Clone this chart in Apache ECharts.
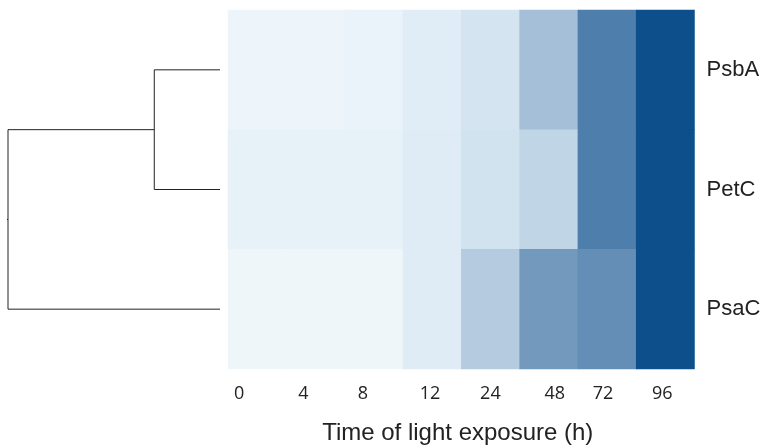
<!DOCTYPE html>
<html>
<head>
<meta charset="utf-8">
<script src="https://cdn.jsdelivr.net/npm/echarts@6/dist/echarts.min.js"></script>
<style>
html,body{margin:0;padding:0;background:#fff;}
#chart{width:763px;height:445px;}
</style>
</head>
<body>
<div id="chart"></div>
<script>
// ---- data ----
const timeLabels = ['0', '4', '8', '12', '24', '48', '72', '96'];
const genes = ['PsbA', 'PetC', 'PsaC'];
const psbA = [0.02, 0.02, 0.04, 0.10, 0.19, 0.40, 0.80, 1.00];
const petC = [0.06, 0.06, 0.06, 0.11, 0.20, 0.28, 0.80, 1.00];
const psaC = [0.01, 0.01, 0.01, 0.11, 0.33, 0.60, 0.68, 1.00];
// dendrogram linkage distances
const mergePsbAPetC = 0.31;
const mergeRoot = 1.0;

// ---- build ----
const rows = [psbA, petC, psaC];
const heat = [];
rows.forEach((r, yi) => r.forEach((v, xi) => heat.push([xi, yi, v])));

const labelShift = [-18, -12, -11, -2, 0, 6, -4, -3];
const rich = {};
labelShift.forEach((s, i) => {
  rich['l' + i] = {
    fontFamily: 'Open Sans', fontSize: 18, color: '#222',
    padding: s < 0 ? [0, -2 * s, 0, 0] : [0, 0, 0, 2 * s]
  };
});

// leaf positions (row centers in row units)
const yA = 0.5, yB = 1.5, yC = 2.5;
const yAB = (yA + yB) / 2;
const link1 = [[0, yA], [mergePsbAPetC, yA], [mergePsbAPetC, yB], [0, yB]];
const link2 = [[mergePsbAPetC, yAB], [mergeRoot, yAB], [mergeRoot, yC], [0, yC]];
const stub = [[mergeRoot, (yAB + yC) / 2], [mergeRoot * 1.006, (yAB + yC) / 2]];

const chart = echarts.init(document.getElementById('chart'), null, {renderer: 'canvas'});
const lineStyle = {color: '#222', width: 1};
chart.setOption({
  animation: false,
  grid: [
    {left: 228, right: 68.5, top: 10, bottom: 76, containLabel: false, outerBoundsMode: 'none'},
    {left: 8, width: 212, top: 10, bottom: 76, containLabel: false, outerBoundsMode: 'none'}
  ],
  xAxis: [
    {
      type: 'category', gridIndex: 0, data: timeLabels,
      axisLine: {show: false}, axisTick: {show: false}, splitArea: {show: false},
      axisLabel: {
        margin: 16,
        formatter: (v, i) => '{l' + i + '|' + v + '}',
        rich: rich
      },
      name: 'Time of light exposure (h)', nameLocation: 'middle', nameGap: 52,
      nameTextStyle: {fontFamily: 'Liberation Sans', fontSize: 24, color: '#222', padding: [0, 7, 0, 0]}
    },
    {
      type: 'value', gridIndex: 1, min: 0, max: mergeRoot, inverse: true,
      show: false
    }
  ],
  yAxis: [
    {
      type: 'category', gridIndex: 0, data: genes, inverse: true, position: 'right',
      axisLine: {show: false}, axisTick: {show: false},
      axisLabel: {margin: 12, fontFamily: 'Liberation Sans', fontSize: 22, color: '#222'}
    },
    {
      type: 'value', gridIndex: 1, min: 0, max: 3, inverse: true, show: false
    }
  ],
  visualMap: {
    show: false, min: 0, max: 1, dimension: 2, seriesIndex: 0,
    inRange: {color: ['#f0f7fb', '#d2e3f0', '#a5bfd8', '#7399bd', '#4e7eac', '#0d4f8b']}
  },
  series: [
    {type: 'heatmap', xAxisIndex: 0, yAxisIndex: 0, data: heat, itemStyle: {borderWidth: 0}},
    {type: 'line', xAxisIndex: 1, yAxisIndex: 1, data: link1, symbol: 'none', lineStyle: lineStyle, silent: true},
    {type: 'line', xAxisIndex: 1, yAxisIndex: 1, data: link2, symbol: 'none', lineStyle: lineStyle, silent: true},
    {type: 'line', xAxisIndex: 1, yAxisIndex: 1, data: stub, symbol: 'none', lineStyle: lineStyle, silent: true}
  ]
});
</script>
</body>
</html>
